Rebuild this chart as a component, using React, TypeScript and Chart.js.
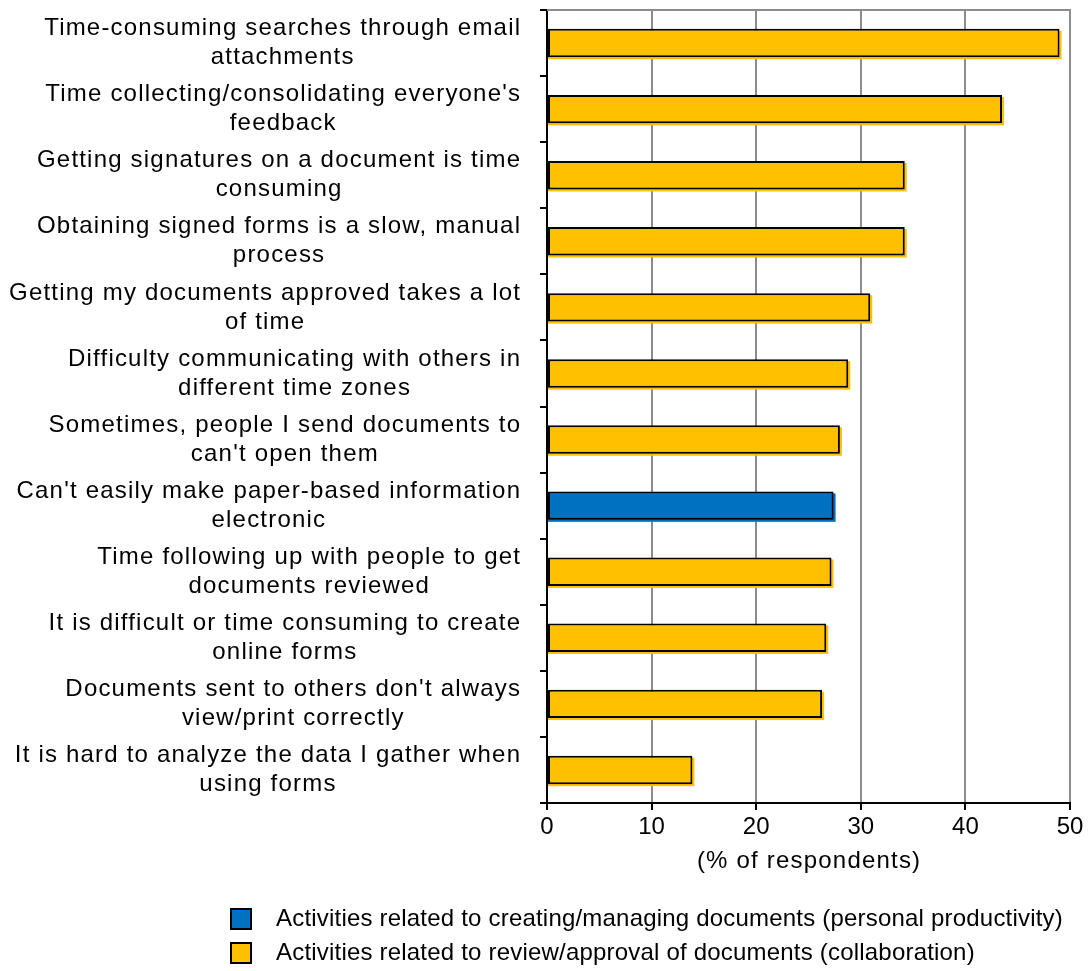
import React, { useEffect, useRef } from "react";
import { Chart, registerables } from "chart.js";

Chart.register(...registerables);

const categoryLines: string[][] = [
  ["Time-consuming searches through email", "attachments"],
  ["Time collecting/consolidating everyone's", "feedback"],
  ["Getting signatures on a document is time", "consuming"],
  ["Obtaining signed forms is a slow, manual", "process"],
  ["Getting my documents approved takes a lot", "of time"],
  ["Difficulty communicating with others in", "different time zones"],
  ["Sometimes, people I send documents to", "can't open them"],
  ["Can't easily make paper-based information", "electronic"],
  ["Time following up with people to get", "documents reviewed"],
  ["It is difficult or time consuming to create", "online forms"],
  ["Documents sent to others don't always", "view/print correctly"],
  ["It is hard to analyze the data I gather when", "using forms"],
];

const personalValues: (number | null)[] = [null, null, null, null, null, null, null, 27.4, null, null, null, null];
const collaborationValues: (number | null)[] = [49, 43.5, 34.2, 34.2, 30.9, 28.8, 28.0, null, 27.2, 26.7, 26.3, 13.9];

const seriesNames = [
  "Activities related to creating/managing documents (personal productivity)",
  "Activities related to review/approval of documents (collaboration)",
];
const xTicks = [0, 10, 20, 30, 40, 50];
const xTitle = "(% of respondents)";

const BLUE = "#0070C0";
const YELLOW = "#FFC000";
const GRID = "#8c8c8c";
const FONT = '"Liberation Sans", Arial, sans-serif';

const customDraw = {
  id: "customDraw",
  beforeDraw(chart: any) {
    chart.ctx.letterSpacing = "0px";
  },
  beforeDatasetsDraw(chart: any) {
    // soft offset edge behind each bar, as in the original rendering
    const { ctx } = chart;
    ctx.save();
    chart.data.datasets.forEach((ds: any, di: number) => {
      const meta = chart.getDatasetMeta(di);
      meta.data.forEach((el: any, i: number) => {
        if (ds.data[i] == null) return;
        const h = el.height;
        ctx.fillStyle = ds.backgroundColor;
        ctx.fillRect(el.base, el.y - h / 2 + 2, el.x - el.base + 2, h);
      });
    });
    ctx.restore();
  },
  afterDraw(chart: any) {
    const { ctx, chartArea, scales } = chart;
    const yScale = scales.y;
    ctx.save();
    // top border of plot
    ctx.strokeStyle = GRID;
    ctx.lineWidth = 2;
    ctx.beginPath();
    ctx.moveTo(chartArea.left, chartArea.top);
    ctx.lineTo(chartArea.right + 1, chartArea.top);
    ctx.stroke();

    // category labels
    const ls = 1.2;
    ctx.font = `24px ${FONT}`;
    ctx.letterSpacing = `${ls}px`;
    ctx.fillStyle = "#000";
    ctx.textBaseline = "middle";
    ctx.textAlign = "left";
    const labelRight = chartArea.left - 27;
    categoryLines.forEach((lines, i) => {
      const cy = yScale.getPixelForValue(i);
      const widths = lines.map((l) => ctx.measureText(l).width - ls);
      const w = Math.max(...widths);
      const cx = labelRight - w / 2;
      lines.forEach((l, j) => {
        ctx.fillText(l, cx - widths[j] / 2, cy + (j - (lines.length - 1) / 2) * 29);
      });
    });

    // x axis title
    const tw = ctx.measureText(xTitle).width - ls;
    ctx.fillText(xTitle, (chartArea.left + chartArea.right) / 2 - tw / 2, chartArea.bottom + 58);

    // legend
    ctx.letterSpacing = "0.2px";
    const colors = [BLUE, YELLOW];
    const boxLeft = 231;
    const rows = [chartArea.bottom + 116, chartArea.bottom + 150];
    seriesNames.forEach((name, i) => {
      const cy = rows[i];
      ctx.fillStyle = colors[i];
      ctx.fillRect(boxLeft, cy - 10, 20, 20);
      ctx.strokeStyle = "#000";
      ctx.lineWidth = 2;
      ctx.strokeRect(boxLeft, cy - 10, 20, 20);
      ctx.fillStyle = "#000";
      ctx.font = `24px ${FONT}`;
      ctx.fillText(name, boxLeft + 45, cy);
    });
    ctx.restore();
  },
};

export default function App() {
  const ref = useRef<HTMLCanvasElement | null>(null);
  useEffect(() => {
    if (!ref.current) return;
    const common = {
      borderColor: "#000",
      borderWidth: 2,
      borderSkipped: false,
      grouped: false,
      barPercentage: 0.43,
      categoryPercentage: 1,
    };
    const chart = new Chart(ref.current, {
      type: "bar",
      data: {
        labels: categoryLines.map((l) => l.join(" ")),
        datasets: [
          { label: seriesNames[0], data: personalValues, backgroundColor: BLUE, ...common } as any,
          { label: seriesNames[1], data: collaborationValues, backgroundColor: YELLOW, ...common } as any,
        ],
      },
      options: {
        responsive: false,
        animation: false,
        indexAxis: "y",
        layout: { padding: { left: 0, right: 21, top: 10, bottom: 0 } },
        plugins: { legend: { display: false }, tooltip: { enabled: false } },
        scales: {
          x: {
            type: "linear",
            min: 0,
            max: 50,
            afterBuildTicks: (s: any) => {
              s.ticks = xTicks.map((v) => ({ value: v }));
            },
            ticks: { color: "#000", font: { family: FONT, size: 24 }, padding: 3 },
            grid: {
              color: (c: any) => (c.index === 0 ? "rgba(0,0,0,0)" : GRID),
              lineWidth: 2,
              tickColor: "#000",
              tickLength: 7,
              tickWidth: 2,
            },
            border: { color: "#000", width: 2 },
            afterFit: (s: any) => {
              s.height = 168;
            },
          },
          y: {
            type: "category",
            ticks: { display: false },
            grid: {
              drawOnChartArea: false,
              color: "#000",
              lineWidth: 2,
              tickLength: 7,
              offset: true,
            },
            border: { color: "#000", width: 2 },
            afterFit: (s: any) => {
              s.width = 547;
            },
          },
        },
      } as any,
      plugins: [customDraw],
    });
    return () => chart.destroy();
  }, []);
  return (
    <div style={{ position: "absolute", left: 0, top: 0 }}>
      <canvas ref={ref} width={1091} height={971} />
    </div>
  );
}
